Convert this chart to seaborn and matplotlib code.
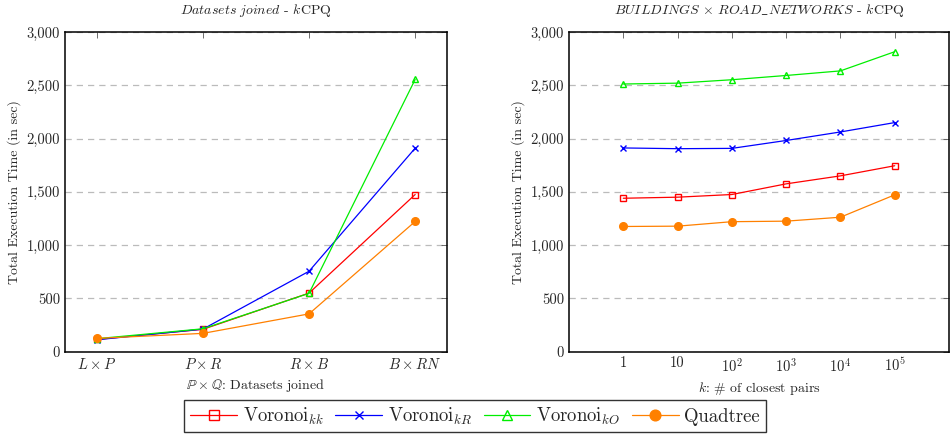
import pandas as pd
import matplotlib.pyplot as plt
import matplotlib.ticker as mticker
import seaborn as sns

# values
joins = ['$L \\times P$', '$P \\times R$', '$R \\times B$', '$B \\times RN$']
join_kk = [115, 210, 550, 1475]
join_kR = [112, 212, 755, 1910]
join_kO = [122, 215, 548, 2555]
join_qt = [125, 172, 355, 1222]

k_labels = ['1', '10', '$10^2$', '$10^3$', '$10^4$', '$10^5$']
k_kk = [1440, 1450, 1475, 1575, 1650, 1745]
k_kR = [1912, 1905, 1908, 1982, 2062, 2150]
k_kO = [2512, 2520, 2552, 2592, 2635, 2815]
k_qt = [1175, 1178, 1220, 1225, 1262, 1472]

series = [
    ('Voronoi$_{kk}$', '#ff0000', 's', 5, 'none'),
    ('Voronoi$_{kR}$', '#0000ff', 'x', 4, None),
    ('Voronoi$_{kO}$', '#00ee00', '^', 5, 'none'),
    ('Quadtree', '#ff8000', 'o', 5.5, None),
]

sns.set_style('white')
plt.rcParams['font.family'] = ['cmr10', 'DejaVu Serif']
plt.rcParams['mathtext.fontset'] = 'cm'
plt.rcParams['axes.formatter.use_mathtext'] = True
plt.rcParams['axes.unicode_minus'] = False

fig = plt.figure(figsize=(9.5, 4.38), dpi=100)
ax1 = fig.add_axes([65 / 950, 86.3 / 438, 382 / 950, 319.7 / 438])
ax2 = fig.add_axes([569 / 950, 86.3 / 438, 380 / 950, 319.7 / 438])


def draw(ax, labels, values):
    handles = []
    for (name, color, marker, ms, mfc), vals in zip(series, values):
        df = pd.DataFrame({'x': range(len(labels)), 'y': vals})
        kw = dict(markerfacecolor=mfc) if mfc else {}
        sns.lineplot(data=df, x='x', y='y', ax=ax, color=color, marker=marker,
                     markersize=ms, linewidth=0.9, markeredgecolor=color,
                     markeredgewidth=1.0, label=name, legend=False, **kw)
        handles.append(ax.lines[-1])
    ax.set_xticks(range(len(labels)))
    ax.set_xticklabels(labels)
    ax.set_ylim(0, 3000)
    ax.set_yticks(range(0, 3001, 500))
    ax.yaxis.set_major_formatter(mticker.StrMethodFormatter('{x:,.0f}'))
    ax.grid(axis='y', linestyle=(0, (5, 4)), color='#bbbbbb', linewidth=0.9)
    ax.tick_params(direction='in', top=True, right=True, labelsize=10.5,
                   length=4, width=0.6, color='#555555')
    ax.set_ylabel('Total Execution Time (in sec)', fontsize=10)
    for s in ax.spines.values():
        s.set_color('black')
        s.set_linewidth(1.1)
    return handles


handles = draw(ax1, joins, [join_kk, join_kR, join_kO, join_qt])
ax1.set_xlim(-0.3, 3.3)
ax1.set_xlabel('$\\mathbb{P} \\times \\mathbb{Q}$: Datasets joined', fontsize=10)
ax1.set_title('$\\mathit{Datasets\\ joined}$ - $k$CPQ', fontsize=10, pad=13)

draw(ax2, k_labels, [k_kk, k_kR, k_kO, k_qt])
ax2.set_xlim(-1, 6)
ax2.set_xlabel('$k$: # of closest pairs', fontsize=10)
ax2.set_title('$\\mathit{BUILDINGS}$ $\\times$ $\\mathit{ROAD\\_NETWORKS}$ - $k$CPQ',
              fontsize=10, pad=13)

fig.legend(handles=handles, labels=[s[0] for s in series], loc='center',
           bbox_to_anchor=(0.5, 0.05), ncol=4, fontsize=13.5, frameon=True,
           fancybox=False, edgecolor='black', handlelength=2.5, markerscale=1.4,
           columnspacing=0.6, handletextpad=0.3, borderpad=0.3)

fig.savefig('out.png', dpi=100)
